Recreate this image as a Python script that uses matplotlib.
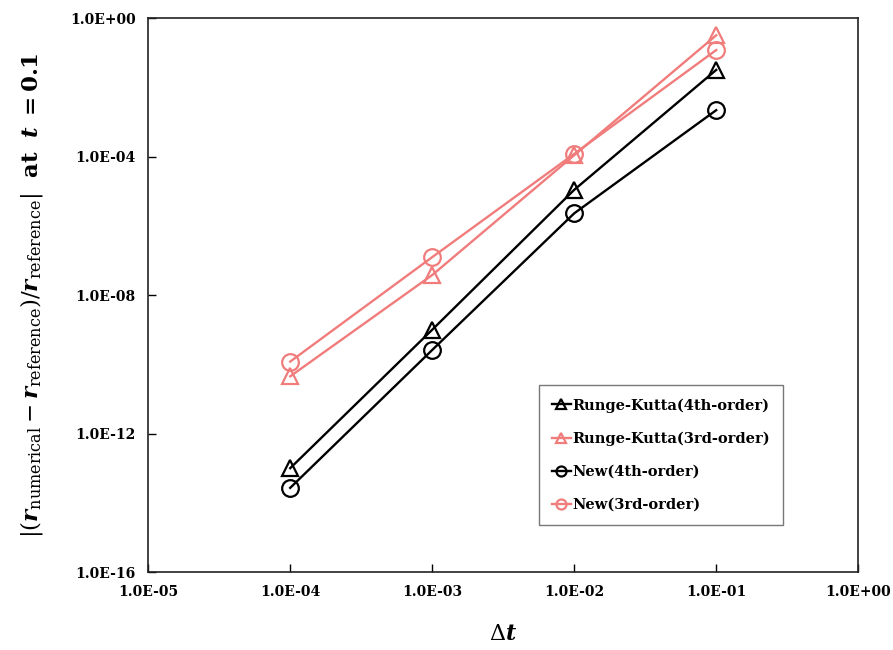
import numpy as np
import matplotlib
matplotlib.use("Agg")
import matplotlib.pyplot as plt
from matplotlib.ticker import FixedLocator, FuncFormatter, NullLocator

plt.rcParams["font.family"] = "DejaVu Serif"
plt.rcParams["mathtext.fontset"] = "dejavuserif"

dt = [1e-4, 1e-3, 1e-2, 1e-1]
rk4 = [1.0e-13, 1.0e-9, 1.1e-5, 3.2e-2]
rk3 = [4.5e-11, 3.8e-8, 1.1e-4, 0.32]
new4 = [2.7e-14, 2.6e-10, 2.3e-6, 2.2e-3]
new3 = [1.2e-10, 1.25e-7, 1.2e-4, 0.12]

x_ticks = [1e-5, 1e-4, 1e-3, 1e-2, 1e-1, 1e0]
y_ticks = [1e-16, 1e-12, 1e-8, 1e-4, 1e0]

red = "#F07C7C"

fig = plt.figure(figsize=(8.93, 6.5), dpi=100)
ax = fig.add_axes([0.166, 0.12, 0.795, 0.852])

style = dict(lw=1.7, ms=12, mfc="none", mew=1.6)
ax.plot(dt, rk4, "-^", color="black", label="Runge-Kutta(4th-order)", **style)
ax.plot(dt, rk3, "-^", color=red, label="Runge-Kutta(3rd-order)", **style)
ax.plot(dt, new4, "-o", color="black", label="New(4th-order)", **style)
ax.plot(dt, new3, "-o", color=red, label="New(3rd-order)", **style)

ax.set_xscale("log")
ax.set_yscale("log")
ax.set_xlim(1e-5, 1e0)
ax.set_ylim(1e-16, 1e0)


def sci(v, pos):
    e = int(round(np.log10(v)))
    return "1.0E%s%02d" % ("+" if e >= 0 else "-", abs(e))


ax.xaxis.set_major_locator(FixedLocator(x_ticks))
ax.yaxis.set_major_locator(FixedLocator(y_ticks))
ax.xaxis.set_minor_locator(NullLocator())
ax.yaxis.set_minor_locator(NullLocator())
ax.xaxis.set_major_formatter(FuncFormatter(sci))
ax.yaxis.set_major_formatter(FuncFormatter(sci))
ax.tick_params(direction="in", length=6, width=1, labelsize=10, pad=9)
for lab in ax.get_xticklabels() + ax.get_yticklabels():
    lab.set_fontweight("bold")
for s in ax.spines.values():
    s.set_linewidth(1.2)
    s.set_color("#222222")

ax.set_xlabel(r"$\Delta \boldsymbol{t}$", fontsize=16, labelpad=18)
ax.set_ylabel(r"$|(\boldsymbol{r}_{\mathrm{numerical}} - \boldsymbol{r}_{\mathrm{reference}})/\boldsymbol{r}_{\mathrm{reference}}|$"
              r"  $\mathbf{at}$  $\boldsymbol{t}$ $\mathbf{= 0.1}$",
              fontsize=16.5, labelpad=18)

leg = ax.legend(loc="lower right", bbox_to_anchor=(0.894, 0.085),
                borderaxespad=0,
                prop={"weight": "bold", "size": 10.5}, frameon=True,
                fancybox=False, edgecolor="#555555", handlelength=1.3,
                handletextpad=0.1, labelspacing=1.3, borderpad=0.9,
                markerscale=0.6)
leg.get_frame().set_linewidth(1.0)

fig.savefig("out.png", dpi=100)
